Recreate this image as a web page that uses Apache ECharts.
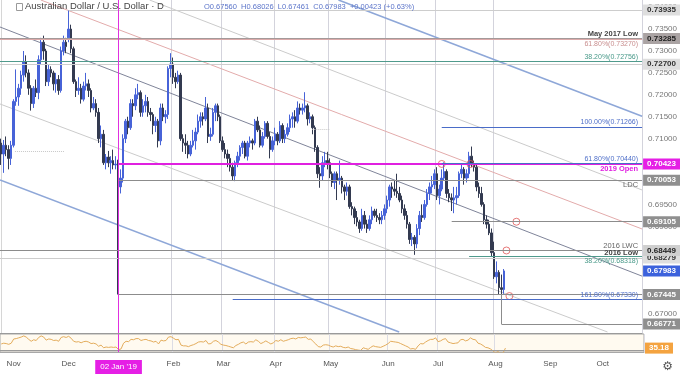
<!DOCTYPE html>
<html><head><meta charset="utf-8">
<script src="https://cdn.jsdelivr.net/npm/echarts@6/dist/echarts.min.js"></script>
<style>html,body{margin:0;padding:0;background:#fff}#c{width:680px;height:374px}</style>
</head><body><div id="c"></div>
<script>
// ---------------- DATA ----------------
const symbolName = 'Australian Dollar / U.S. Dollar · D';
const firstDay = '2018-10-25';
const holidays = ['2018-12-25', '2019-01-01'];
const dayCount = 258;
const markedDay = '2019-01-02';
const gridMonths = ['2019-02','2019-03','2019-04','2019-05','2019-06','2019-07','2019-08'];
const monthNames = ['Jan','Feb','Mar','Apr','May','Jun','Jul','Aug','Sep','Oct','Nov','Dec'];

// daily candles [open, high, low, close]
const ohlc = [
[0.7090,0.7100,0.7040,0.7065],[0.7065,0.7097,0.7022,0.7085],[0.7085,0.7105,0.7060,0.7075],[0.7075,0.7085,0.7030,0.7055],[0.7055,0.7095,0.7040,0.7085],
[0.7085,0.7190,0.7080,0.7185],[0.7185,0.7258,0.7175,0.7195],[0.7195,0.7225,0.7175,0.7215],[0.7215,0.7255,0.7200,0.7245],[0.7245,0.7300,0.7230,0.7275],
[0.7275,0.7290,0.7240,0.7250],[0.7250,0.7258,0.7200,0.7215],[0.7215,0.7222,0.7164,0.7180],[0.7180,0.7220,0.7170,0.7215],[0.7215,0.7235,0.7195,0.7205],
[0.7205,0.7290,0.7190,0.7280],[0.7280,0.7330,0.7270,0.7320],[0.7320,0.7335,0.7280,0.7300],[0.7300,0.7305,0.7220,0.7230],[0.7230,0.7270,0.7220,0.7258],
[0.7258,0.7265,0.7240,0.7250],[0.7250,0.7255,0.7210,0.7225],[0.7225,0.7250,0.7205,0.7235],[0.7235,0.7245,0.7200,0.7210],[0.7210,0.7310,0.7205,0.7300],
[0.7300,0.7335,0.7290,0.7320],[0.7320,0.7330,0.7295,0.7310],[0.7330,0.73935,0.7320,0.7350],[0.7350,0.7360,0.7295,0.7305],[0.7305,0.7310,0.7225,0.7230],
[0.7230,0.7235,0.7195,0.7210],[0.7210,0.7240,0.7200,0.7215],[0.7215,0.7225,0.7180,0.7190],[0.7190,0.7230,0.7185,0.7220],[0.7220,0.7250,0.7210,0.7225],
[0.7225,0.7235,0.7195,0.7210],[0.7210,0.7215,0.7160,0.7170],[0.7170,0.7195,0.7165,0.7180],[0.7180,0.7190,0.7150,0.7160],[0.7160,0.7170,0.7090,0.7100],
[0.7100,0.7130,0.7080,0.7110],[0.7110,0.7120,0.7040,0.7045],[0.7045,0.7065,0.7030,0.7058],[0.7058,0.7072,0.7035,0.7045],[0.7045,0.7060,0.7020,0.7050],
[0.7050,0.7075,0.7030,0.7040],[0.7040,0.7060,0.7030,0.7042],[0.7042,0.7052,0.67445,0.6990],[0.6990,0.7030,0.6975,0.7010],[0.7010,0.7110,0.7000,0.7100],
[0.7100,0.7145,0.7090,0.7140],[0.7140,0.7150,0.7110,0.7125],[0.7125,0.7190,0.7120,0.7180],[0.7180,0.7190,0.7150,0.7175],[0.7175,0.7215,0.7165,0.7200],
[0.7200,0.7225,0.7190,0.7205],[0.7205,0.7210,0.7150,0.7160],[0.7160,0.7190,0.7150,0.7175],[0.7175,0.7200,0.7160,0.7185],[0.7185,0.7195,0.7150,0.7160],
[0.7160,0.7170,0.7140,0.7155],[0.7155,0.7160,0.7110,0.7130],[0.7130,0.7150,0.7115,0.7140],[0.7140,0.7145,0.7080,0.7095],[0.7095,0.7180,0.7085,0.7170],
[0.7170,0.7180,0.7140,0.7150],[0.7150,0.7165,0.7135,0.7155],[0.7155,0.7265,0.7145,0.7260],[0.7260,0.7295,0.7240,0.7270],[0.7270,0.7285,0.7225,0.7240],
[0.7240,0.7250,0.7215,0.7230],[0.7230,0.7255,0.7225,0.7245],[0.7245,0.7250,0.7095,0.7100],[0.7100,0.7110,0.7070,0.7090],[0.7090,0.7110,0.7065,0.7085],
[0.7085,0.7095,0.7055,0.7065],[0.7065,0.7095,0.7060,0.7085],[0.7085,0.7120,0.7080,0.7095],[0.7095,0.7125,0.7075,0.7115],[0.7115,0.7155,0.7110,0.7140],
[0.7140,0.7160,0.7125,0.7150],[0.7150,0.7160,0.7130,0.7145],[0.7145,0.7195,0.7140,0.7170],[0.7170,0.7180,0.7090,0.7105],[0.7105,0.7125,0.7095,0.7110],
[0.7110,0.7170,0.7105,0.7160],[0.7160,0.7180,0.7140,0.7175],[0.7175,0.7180,0.7140,0.7150],[0.7150,0.7155,0.7090,0.7095],[0.7095,0.7105,0.7070,0.7075],
[0.7075,0.7090,0.7055,0.7065],[0.7065,0.7075,0.7035,0.7055],[0.7055,0.7065,0.7025,0.7035],[0.7035,0.7045,0.7005,0.7015],[0.7015,0.7050,0.7003,0.7045],
[0.7045,0.7070,0.7035,0.7060],[0.7060,0.7085,0.7050,0.7080],[0.7080,0.7095,0.7065,0.7090],[0.7090,0.7095,0.7055,0.7060],[0.7060,0.7095,0.7050,0.7090],
[0.7090,0.7105,0.7080,0.7095],[0.7095,0.7100,0.7075,0.7090],[0.7090,0.7145,0.7085,0.7140],[0.7140,0.7150,0.7115,0.7120],[0.7120,0.7130,0.7080,0.7085],
[0.7085,0.7115,0.7080,0.7105],[0.7105,0.7140,0.7100,0.7135],[0.7135,0.7140,0.7100,0.7105],[0.7105,0.7115,0.7055,0.7075],[0.7075,0.7105,0.7070,0.7095],
[0.7095,0.7125,0.7085,0.7110],[0.7110,0.7115,0.7085,0.7095],[0.7095,0.7140,0.7090,0.7130],[0.7130,0.7135,0.7090,0.7100],[0.7100,0.7120,0.7090,0.7110],
[0.7110,0.7135,0.7105,0.7125],[0.7125,0.7155,0.7115,0.7145],[0.7145,0.7160,0.7125,0.7150],[0.7150,0.7165,0.7125,0.7140],[0.7140,0.7185,0.7135,0.7170],
[0.7170,0.7180,0.7155,0.7165],[0.7165,0.7180,0.7155,0.7170],[0.7170,0.7206,0.7160,0.7175],[0.7175,0.7180,0.7130,0.7145],[0.7145,0.7160,0.7135,0.7150],
[0.7150,0.7155,0.7110,0.7125],[0.7125,0.7130,0.7070,0.7080],[0.7080,0.7085,0.7010,0.7020],[0.7020,0.7035,0.6988,0.7015],[0.7015,0.7060,0.7005,0.7045],
[0.7045,0.7070,0.7035,0.7050],[0.7050,0.7070,0.7030,0.7045],[0.7045,0.7055,0.7010,0.7020],[0.7020,0.7025,0.6990,0.7000],[0.7000,0.7025,0.6985,0.7020],
[0.7020,0.7025,0.6960,0.7005],[0.7005,0.7050,0.6995,0.7010],[0.7010,0.7015,0.6975,0.6990],[0.6990,0.6995,0.6960,0.6980],[0.6980,0.7000,0.6970,0.6990],
[0.6990,0.6995,0.6940,0.6945],[0.6945,0.6955,0.6925,0.6940],[0.6940,0.6945,0.6905,0.6920],[0.6920,0.6935,0.6900,0.6910],[0.6910,0.6915,0.6885,0.6895],
[0.6895,0.6940,0.6890,0.6925],[0.6925,0.6935,0.6895,0.6905],[0.6905,0.6915,0.6885,0.6895],[0.6895,0.6925,0.6890,0.6915],[0.6915,0.6945,0.6905,0.6935],
[0.6935,0.6940,0.6920,0.6925],[0.6925,0.6940,0.6910,0.6920],[0.6920,0.6930,0.6905,0.6915],[0.6915,0.6935,0.6905,0.6925],[0.6925,0.6950,0.6915,0.6940],
[0.6940,0.6970,0.6930,0.6960],[0.6960,0.6995,0.6945,0.6990],[0.6990,0.7000,0.6965,0.6985],[0.6985,0.7005,0.6970,0.6980],[0.6980,0.7020,0.6965,0.6975],
[0.6975,0.6990,0.6955,0.6960],[0.6960,0.6970,0.6930,0.6940],[0.6940,0.6950,0.6915,0.6925],[0.6925,0.6935,0.6895,0.6905],[0.6905,0.6910,0.6860,0.6870],
[0.6870,0.6885,0.6855,0.6875],[0.6875,0.6880,0.6835,0.6860],[0.6860,0.6905,0.6850,0.6895],[0.6895,0.6935,0.6880,0.6925],[0.6925,0.6950,0.6910,0.6920],
[0.6920,0.6960,0.6915,0.6950],[0.6950,0.6985,0.6945,0.6975],[0.6975,0.7000,0.6960,0.6990],[0.6990,0.7015,0.6975,0.6995],[0.6995,0.7030,0.6985,0.7020],
[0.7020,0.7035,0.6960,0.6970],[0.6970,0.6995,0.6950,0.6985],[0.6985,0.7030,0.6980,0.7010],[0.7010,0.7046,0.7005,0.7025],[0.7025,0.7030,0.6965,0.6975],
[0.6975,0.6985,0.6955,0.6965],[0.6965,0.6975,0.6935,0.6960],[0.6960,0.6990,0.6930,0.6965],[0.6965,0.6990,0.6950,0.6970],[0.6970,0.7025,0.6965,0.7020],
[0.7020,0.7040,0.7010,0.7030],[0.7030,0.7035,0.6995,0.7010],[0.7010,0.7030,0.7000,0.7020],[0.7020,0.7070,0.7010,0.7060],[0.7060,0.7082,0.7035,0.7040],
[0.7040,0.7050,0.7025,0.7035],[0.7035,0.7040,0.6980,0.6990],[0.6990,0.7000,0.6965,0.6975],[0.6975,0.6990,0.6945,0.6950],[0.6950,0.6955,0.6905,0.6915],
[0.6915,0.6925,0.6895,0.6905],[0.6905,0.6915,0.6880,0.6885],[0.6885,0.6895,0.6830,0.6840],[0.6840,0.6865,0.6780,0.6785],[0.6785,0.6820,0.6770,0.6795],
[0.6795,0.6800,0.6745,0.6760],[0.6760,0.6790,0.6745,0.6756],[0.67560,0.68026,0.67461,0.67983]
];

// RSI(14)
const rsi = [
46,48,47,45,48,59,60,62,64,67, 64,58,53,57,55,63,67,64,56,59,
58,55,56,53,63,65,63,66,61,53, 51,52,49,52,53,51,47,48,46,40,
43,36,38,37,38,37,38,31,33,48, 53,52,58,57,60,60,55,57,58,55,
54,51,53,46,56,54,55,64,65,61, 57,58,43,41,41,39,42,44,47,51,
52,51,55,46,47,53,55,51,45,43, 42,40,38,36,42,45,49,51,46,51,
52,51,57,53,47,50,54,50,46,49, 55,53,57,53,55,57,60,61,59,63,
62,63,64,58,59,52,46,39,38,43, 44,43,40,38,41,39,40,37,36,38,
34,33,31,30,29,36,34,32,37,41, 39,38,37,40,43,47,53,52,51,50,
47,44,41,38,33,34,32,41,47,46, 51,55,58,58,62,52,54,58,60,51,
49,47,48,49,57,58,54,56,62,58, 57,48,46,42,37,36,33,28,23,26,
22,22,35.18
];

// horizontal levels: price, first day (null = whole width), line kind, price box kind, note text, note kind
const levels = [
  {p:0.73935, start:'2018-12-03', line:'faint',   box:'light'},
  {p:0.73285, start:null,         line:'major',   box:'mid',     note:'May 2017 Low',     noteKind:'boldTop'},
  {p:0.73270, start:null,         line:'fibRed',                 note:'61.80%(0.73270)',  noteKind:'redBottom'},
  {p:0.72756, start:null,         line:'fibTeal',                note:'38.20%(0.72756)',  noteKind:'tealTop'},
  {p:0.72700, start:null,         line:'faint',   box:'light'},
  {p:0.71266, start:'2019-07-03', line:'fibBlue',                note:'100.00%(0.71266)', noteKind:'blueTop'},
  {p:0.70423, start:'2019-01-02', line:'open',    box:'magenta', note:'2019 Open',        noteKind:'magentaBottom'},
  {p:0.70440, start:'2019-07-03', line:'fibBlue',                note:'61.80%(0.70440)',  noteKind:'blueTop'},
  {p:0.70053, start:'2019-01-02', line:'gray',    box:'gray',    note:'LDC',              noteKind:'grayBottom'},
  {p:0.69105, start:'2019-07-09', line:'gray',    box:'gray'},
  {p:0.68279, start:null,         line:'faint',   box:'light',   note:'2016 Low',         noteKind:'boldTop'},
  {p:0.68449, start:null,         line:'gray',    box:'lightDark', note:'2016 LWC',       noteKind:'grayTop'},
  {p:0.68318, start:'2019-07-18', line:'fibTeal',                note:'38.20%(0.68318)',  noteKind:'tealBottom'},
  {p:0.67445, start:'2019-01-02', line:'gray',    box:'gray'},
  {p:0.67330, start:'2019-03-07', line:'fibBlue',                note:'161.80%(0.67330)', noteKind:'blueTop'},
  {p:0.66771, start:'2019-08-06', line:'gray',    box:'gray'}
];
// vertical connector (day, from price, to price)
const connector = ['2019-08-06', 0.67445, 0.66771];
// short dotted reference segments [fromIndex, toIndex, price]
const dotted = [[5.5, 25.5, 0.70719], [125, 132, 0.71221]];

// descending channel lines: [[barIndex, price], [barIndex, price]]
const channels = [
  {kind:'blue',  pts:[[135.5,0.74163],[257.5,0.71510]]},
  {kind:'light', pts:[[59.6,0.74163],[257.5,0.69829]]},
  {kind:'red',   pts:[[15.9,0.74163],[257.5,0.68940]]},
  {kind:'dark',  pts:[[-0.5,0.73547],[257.5,0.67864]]},
  {kind:'light', pts:[[-0.5,0.71791],[243.6,0.66590]]},
  {kind:'blue',  pts:[[-0.5,0.70057],[159.9,0.66590]]}
];
// touch markers [barIndex, price]
const touches = [[177,0.70423],[188.5,0.70423],[207,0.69105],[203,0.68449],[204.2,0.67410]];

const priceMin = 0.66567, priceMax = 0.74163, priceStep = 0.005;
const hiddenTicks = [0.705];
const rsiMin = 25, rsiMax = 72, rsiLevel = 30;

// ---------------- BUILD ----------------
const days = [];
(function(){
  const d = new Date(firstDay + 'T00:00:00Z');
  while (days.length < dayCount) {
    const wd = d.getUTCDay(), s = d.toISOString().slice(0,10);
    if (wd !== 0 && wd !== 6 && holidays.indexOf(s) < 0) days.push(s);
    d.setUTCDate(d.getUTCDate() + 1);
  }
})();
const idx = s => days.indexOf(s);
const monthStart = i => i > 0 && days[i].slice(0,7) !== days[i-1].slice(0,7);
const gridLineAt = i => monthStart(i) && gridMonths.indexOf(days[i].slice(0,7)) >= 0;
const xMax = dayCount - 0.5;

const FONT = '"Liberation Sans", Arial, sans-serif';
const HIDDEN = 'rgba(0,0,0,0)';
const lineStyles = {
  faint:  {color:'#cdcdcd', width:1},
  major:  {color:'#a39a9a', width:2},
  fibRed: {color:'#dcaaaa', width:1},
  fibTeal:{color:'#4f9a8c', width:1},
  fibBlue:{color:'#4a6cc8', width:1},
  open:   {color:'#e020e0', width:2},
  gray:   {color:'#8c8c8c', width:1}
};
const boxStyles = {
  light:    {backgroundColor:'#dedede', color:'#333'},
  mid:      {backgroundColor:'#aaa3a3', color:'#222'},
  magenta:  {backgroundColor:'#e51fe5', color:'#fff'},
  gray:     {backgroundColor:'#8f8f8f', color:'#fff'},
  lightDark:{backgroundColor:'#cfcfcf', color:'#222'},
  blue:     {backgroundColor:'#3c62dc', color:'#fff'},
  orange:   {backgroundColor:'#f4a340', color:'#fff'}
};
const noteStyles = {
  boldTop:      {position:'insideEndTop',    color:'#444', fontWeight:'bold', fontSize:7.5},
  redBottom:    {position:'insideEndBottom', color:'#c98f8f', fontSize:7},
  tealTop:      {position:'insideEndTop',    color:'#4a9a8a', fontSize:7},
  tealBottom:   {position:'insideEndBottom', color:'#4a9a8a', fontSize:7},
  blueTop:      {position:'insideEndTop',    color:'#4f6fc9', fontSize:7},
  magentaBottom:{position:'insideEndBottom', color:'#e020e0', fontWeight:'bold', fontSize:7.5},
  grayBottom:   {position:'insideEndBottom', color:'#666', fontSize:7.5},
  grayTop:      {position:'insideEndTop',    color:'#666', fontSize:7.5}
};
const channelStyles = {
  blue:  {color:'#8ea7d8', width:1.6},
  light: {color:'#cbcbcb', width:1},
  red:   {color:'#e3abab', width:1},
  dark:  {color:'#7f8499', width:1}
};

function boxLabel(text, kind) {
  return Object.assign({show:true, position:'end', distance:1, formatter:text, fontSize:8,
    fontWeight:'bold', fontFamily:FONT, padding:[2,4,1,4], opacity:1}, boxStyles[kind]);
}
const annotation = [];
levels.forEach(L => {
  const label = L.note ? Object.assign({show:true, formatter:L.note, distance:[4,1], fontFamily:FONT}, noteStyles[L.noteKind]) : {show:false};
  const ls = Object.assign({type:'solid', opacity:1}, lineStyles[L.line]);
  if (L.start === null) annotation.push({yAxis:L.p, lineStyle:ls, label:label});
  else annotation.push([{coord:[idx(L.start), L.p], lineStyle:ls, label:label}, {coord:[xMax, L.p]}]);
});
annotation.push([{coord:[idx(connector[0]), connector[1]], lineStyle:Object.assign({type:'solid'}, lineStyles.gray), label:{show:false}},
                 {coord:[idx(connector[0]), connector[2]]}]);
dotted.forEach(d => annotation.push([{coord:[d[0], d[2]], lineStyle:{color:'#c8c8c8', type:'dotted', width:1}, label:{show:false}}, {coord:[d[1], d[2]]}]));
// price boxes drawn last so they sit on top
levels.forEach(L => {
  if (L.box) annotation.push({yAxis:L.p, lineStyle:{color:HIDDEN, width:1}, label:boxLabel(L.p.toFixed(5), L.box)});
});
const last = ohlc[ohlc.length - 1];
annotation.push({yAxis:last[3], lineStyle:{color:HIDDEN, width:1}, label:boxLabel(last[3].toFixed(5), 'blue')});

const chg = last[3] - last[0];
const headerText = 'O' + last[0].toFixed(5) + '  H' + last[1].toFixed(5) + '  L' + last[2].toFixed(5) +
  '  C' + last[3].toFixed(5) + '  ' + (chg >= 0 ? '+' : '') + chg.toFixed(5) + ' (' + (chg >= 0 ? '+' : '') + (chg / last[0] * 100).toFixed(2) + '%)';

const series = [];
channels.forEach((c, k) => {
  series.push({type:'line', xAxisIndex:1, yAxisIndex:0, data:c.pts, symbol:'none', silent:true, clip:true,
    lineStyle:channelStyles[c.kind], z:1,
    markLine: k === 0 ? {silent:true, precision:6, symbol:['none','none'], animation:false, data:annotation} : undefined});
});
series.push({
  type:'candlestick', xAxisIndex:0, yAxisIndex:0, z:3,
  data: ohlc.map(r => [r[0], r[3], r[2], r[1]]),
  barWidth:2,
  itemStyle:{color:'#4763d8', color0:'#333a50', borderColor:'#4763d8', borderColor0:'#333a50', borderWidth:1},
  markLine:{silent:true, symbol:['none','none'], animation:false, label:{show:false},
    data:[{xAxis:markedDay, lineStyle:{color:'#e030e0', width:1, type:'solid'}}]}
});
series.push({type:'scatter', xAxisIndex:1, yAxisIndex:0, data:touches, symbol:'circle', symbolSize:7, z:4,
  itemStyle:{color:'rgba(255,255,255,0)', borderColor:'#e05858', borderWidth:1}});
series.push({
  type:'line', xAxisIndex:2, yAxisIndex:1, data:rsi, symbol:'none', lineStyle:{color:'#e3ac5c', width:1}, z:3,
  markLine:{silent:true, precision:4, symbol:['none','none'], animation:false,
    data:[
      {yAxis:rsiLevel, lineStyle:{color:'#9a9a9a', width:1, type:'solid'}, label:{show:false}},
      {xAxis:markedDay, lineStyle:{color:'#e030e0', width:1, type:'solid'}, label:{show:false}},
      {yAxis:rsi[rsi.length-1], lineStyle:{color:HIDDEN, width:1}, label:boxLabel(rsi[rsi.length-1].toFixed(2), 'orange')}
    ]}
});

const onStep = v => Math.abs(v / priceStep - Math.round(v / priceStep)) < 1e-6;
const option = {
  animation:false,
  textStyle:{fontFamily:FONT},
  grid:[
    {left:0, right:36, top:0, height:333},
    {left:0, right:36, top:334, height:23, show:true, backgroundColor:'#fffaf0', borderColor:'#a8a8a8', borderWidth:1}
  ],
  xAxis:[
    {type:'category', gridIndex:0, data:days, boundaryGap:true,
      axisLine:{show:true, lineStyle:{color:'#9a9a9a'}}, axisTick:{show:false}, axisLabel:{show:false},
      splitLine:{show:true, interval:(i) => gridLineAt(i), lineStyle:{color:'#d3d3dc', width:1}}},
    {type:'value', gridIndex:0, min:-0.5, max:xMax, show:false},
    {type:'category', gridIndex:1, data:days, boundaryGap:true,
      axisLine:{show:true, lineStyle:{color:'#a8a8a8'}}, axisTick:{show:false},
      splitLine:{show:true, interval:(i) => gridLineAt(i), lineStyle:{color:'#dcdce4', width:1}},
      axisLabel:{interval:(i) => monthStart(i), margin:8, fontSize:8, color:'#555', fontFamily:FONT,
        formatter:(v) => {
          const m = monthNames[+v.slice(5,7) - 1];
          if (v === markedDay) return '{mk|' + v.slice(8,10) + ' ' + m + " '" + v.slice(2,4) + '}';
          return m;
        },
        rich:{mk:{backgroundColor:'#e51fe5', color:'#fff', fontSize:8, padding:[3,5,3,5], fontFamily:FONT}}}}
  ],
  yAxis:[
    {type:'value', gridIndex:0, position:'right', min:priceMin, max:priceMax, splitNumber:15,
      minInterval:priceStep, maxInterval:priceStep,
      axisLine:{show:true, lineStyle:{color:'#d6d6d6'}}, axisTick:{show:false}, splitLine:{show:false},
      axisLabel:{fontSize:8, color:'#777', margin:6, showMinLabel:false, showMaxLabel:false, fontFamily:FONT,
        formatter:(v) => (!onStep(v) || hiddenTicks.indexOf(+v.toFixed(3)) >= 0) ? '' : v.toFixed(5)}},
    {type:'value', gridIndex:1, position:'right', min:rsiMin, max:rsiMax,
      axisLine:{show:false}, axisTick:{show:false}, splitLine:{show:false}, axisLabel:{show:false}}
  ],
  graphic:[
    {type:'rect', left:16, top:3, z:100, shape:{width:6, height:7}, style:{fill:'#fff', stroke:'#9a9a9a', lineWidth:1}},
    {type:'text', left:25, top:1, z:100, style:{text:symbolName, font:'9.5px ' + FONT, fill:'#444'}},
    {type:'text', left:204, top:3, z:100, style:{text:headerText, font:'7.5px ' + FONT, fill:'#5b74c9'}},
    {type:'text', right:7, bottom:1, z:100, style:{text:'⚙', font:'12px "DejaVu Sans"', fill:'#555'}}
  ],
  series:series
};
const chart = echarts.init(document.getElementById('c'), null, {renderer:'canvas'});
chart.setOption(option);
</script>
</body></html>
